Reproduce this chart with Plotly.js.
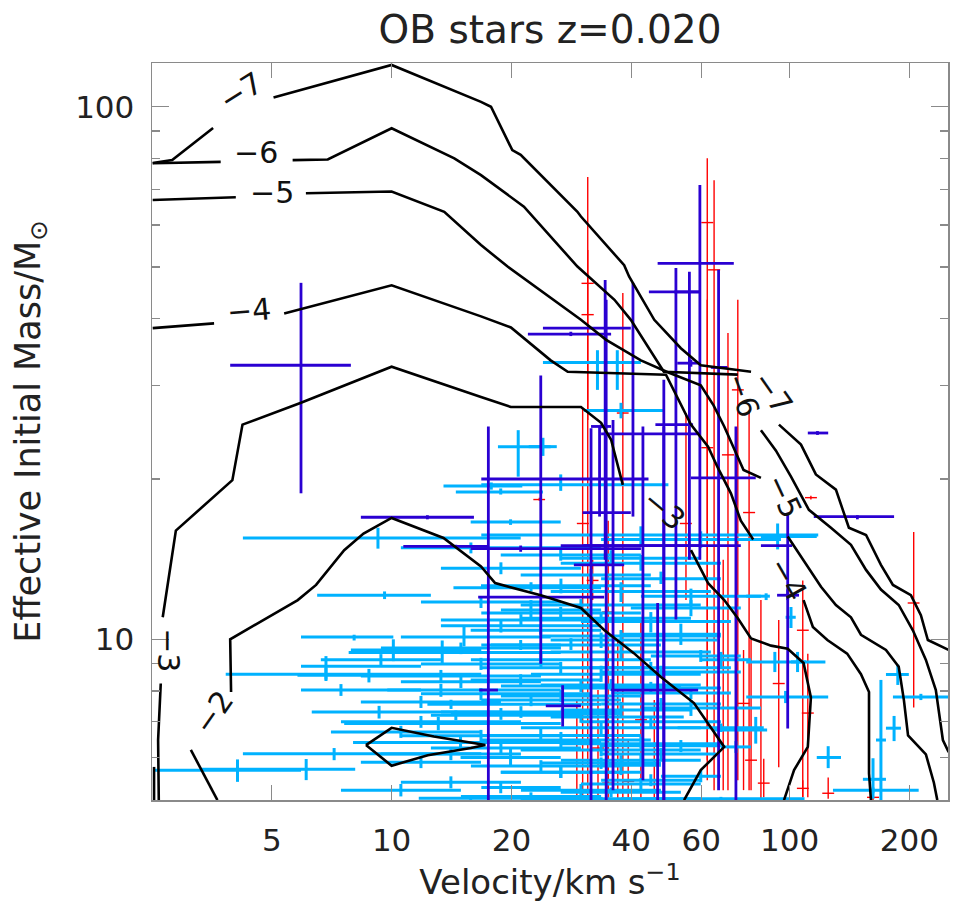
<!DOCTYPE html>
<html><head><meta charset="utf-8">
<script src="https://cdn.plot.ly/plotly-3.0.1.min.js"></script>
<style>html,body{margin:0;padding:0;background:#fff;} #chart{width:959px;height:913px;}</style>
</head><body><div id="chart"></div>
<script>
// ---- axis ticks ----
const xTickVals = [5, 10, 20, 40, 60, 100, 200];
const xTickText = ['5', '10', '20', '40', '60', '100', '200'];
const yTickVals = [10, 100];
const yTickText = ['10', '100'];
const yMinorVals = [6, 7, 8, 9, 20, 30, 40, 50, 60, 70, 80, 90];

// ---- contour lines (velocity km/s, mass Msun); null = gap for label ----
const c7v = [2.51,2.81,3.56,null,5.05,10,16.77,17.77,20.1,21.1,29.3,29.9,38.4,39.5,45.7,53.3,59.8,80,null,94.0,106.8,116.4,130.7,140.9,155.6,169.6,181.8,201.7,213.7,222.5,251];
const c7m = [78.4,79.4,91.2,null,104.1,119.8,102.1,100,82.9,81.2,63.5,62.2,50.4,48.0,39.8,35.2,32.7,31.8,null,25.3,23.2,20.4,19.1,16.2,15.7,13.8,12.65,12.1,11.1,9.97,9.55];
const c6v = [2.51,3.72,null,5.64,6.91,10,14.37,16.77,21.5,29.3,36.3,39.9,48.3,74.1,null,84.7,92.4,100.8,111.8,127.0,142.6,155.6,169.6,188,204,220,233,242.7,251];
const c6m = [78.3,78.8,null,79.4,79.6,91.1,80.0,74.4,64.9,50.1,43.4,39.8,31.8,31.4,null,24.7,22.6,20.2,17.5,16.2,15.05,13.5,12.4,11.6,10.4,9.15,8.03,6.47,6.14];
const c5v = [2.51,4.06,null,6.09,10,13.56,16.77,19.56,29.9,34.6,42.3,49.6,59.8,64.4,68.5,76.6,84.7,null,98.9,108.4,119.9,130.7,142.6,151.1,174.6,188,193.7,198.4,220,230.4,235];
const c5m = [66.8,67.6,null,68.8,69.3,63.5,55.0,50.1,39.8,36.5,33.4,31.7,30.0,27.5,25.1,20.8,20.1,null,15.6,14.1,12.55,11.6,11.0,10.2,9.55,8.88,7.69,6.6,6.08,5.38,4.99];
const c4v = [2.51,3.58,null,5.37,10,16.77,19.94,25.1,27.7,48.9,52.7,56.5,62.4,66.0,71.2,75.4,81.0,null,108.4,114.4,124.4,139.5,151.1,158.3,158.3,160.1];
const c4m = [38.4,39.2,null,40.9,46.2,40.4,38.5,33.4,31.8,31.4,28.1,25.3,23.0,21.0,18.8,16.7,15.4,null,11.85,10.55,9.97,9.4,8.6,7.96,5.6,4.99];
const c3v = [2.60,2.59,2.63,null,2.66,2.87,3.98,4.22,5.92,10,16.77,19.94,29.9,33.6,35.6,38.1,null,56.5,62.4,68.5,74.1,80,89.8,98.9,108.4,113.1,111.1,102.6,96.8];
const c3m = [4.99,6.47,8.26,null,11.0,16.0,19.9,25.3,27.8,32.5,28.5,27.3,27.3,25.5,23.7,19.5,null,14.7,12.75,11.85,10.95,10.04,9.73,9.6,9.03,7.78,6.28,5.68,4.99];
const c2v = [3.65,3.13,null,3.95,3.93,5.81,6.46,7.6,8.5,10,13.5,16.77,18.2,23.7,27.1,29.9,34.2,40.6,47.5,57.5,68.5,59.8,54.3];
const c2m = [4.99,6.2,null,7.96,10.0,11.85,12.65,14.7,15.8,16.9,15.5,13.7,12.75,12.1,11.7,11.45,10.41,9.42,8.5,7.59,6.28,5.68,4.99];
const c1v = [8.62,10,12.77,15.82,17.2,15.82,12.33,10,8.62];
const c1m = [6.33,6.82,6.57,6.39,6.33,6.25,6.06,5.79,6.33];
const cEdgeV = [2.53,2.53];
const cEdgeM = [5.76,4.99];

// ---- contour labels ----
const labText  = ['\u22127','\u22126','\u22125','\u22124','\u22123','\u22122','\u22123','\u22126','\u22127','\u22125','\u22124'];
const labV     = [4.18,4.56,5.0,4.38,2.74,3.56,48.3,76.2,90.8,96.6,98.9];
const labM     = [106.6,81.9,69.1,41.5,9.55,7.3,17.5,28.8,29.1,18.6,13.0];
const labAngle = [-32,0,0,-5,90,-55,40,70,55,65,60];

// ---- cyan stars ----
const cyanV = [9.24,9.6,8.05,15.2,10.1,13.4,6.84,6.84,8.77,13.3,14.1,9.3,14.5,13.1,14.9,7.17,4.1,6.1,15.8,33.6,67.2,17.8,18.8,19.9,24.0,20.8,32.9,36.9,37.7,
 26.6,42.3,31.7,22.4,37.7,56.5,29.9,26.6,44.8,23.7,33.6,21.1,37.7,67.2,91.8,26.6,47.5,21.1,35.6,56.5,97.7,22.4,37.7,29.9,67.2,82.2,23.7,42.3,33.6,73.3,19.9,33.6,26.6,44.8,18.8,35.6,93.3,87.3,100.8,104.7,125,162,162,169.6,187,183,213.7,
 26.6,42.3,59.8,
 15.82,35.6,18.82,47.5,26.63,16.77,56.5,33.6,18.82,53.3,28.22,59.8,16.77,33.6,14.93,44.8,26.63,11.85,56.5,18.82,44.8,10.55,26.63,53.3,14.09,42.3,23.72,59.8,14.09,29.9,7.46,9.40,22.39,37.7,
 21.13,37.7,14.93,23.72,44.8,13.30,29.9,16.77,47.5,21.13,11.85,33.6,18.82,47.5,11.85,26.63,42.3,10.55,22.39,16.77];
const cyanVLo = [4.23,6.5,5.92,10.55,7.9,7.8,5.92,3.83,5.8,9.75,12.3,6.3,12.55,7.6,8.0,4.23,2.52,3.32,11.7,21.1,37.7,13.5,14.5,15.8,22.1,18.5,24.0,26.6,30.4,
 18.8,26.6,21.1,14.3,25.1,42.3,21.1,16.8,29.9,15.8,25.1,16.8,25.1,59.8,77.8,16.8,33.6,15.8,23.7,35.6,77.8,16.8,26.6,25.1,52.3,64.7,16.8,26.6,21.1,67.2,14.9,23.7,18.8,33.6,16.8,26.6,84.7,77.8,97.7,100.8,117,128.5,152.8,164.8,174.6,174.6,181.8,
 16.8,16.8,33.6,
 10.55,26.63,13.30,33.6,16.77,11.85,39.9,21.13,13.30,37.7,17.77,44.8,11.85,22.39,10.55,26.63,18.82,8.37,42.3,14.09,29.9,7.04,16.77,33.6,9.40,26.63,15.82,47.5,10.55,21.13,5.92,6.64,18.82,33.6,
 13.30,23.72,9.40,15.82,29.9,8.37,18.82,11.85,33.6,13.30,7.46,21.13,12.55,33.6,8.37,18.82,29.9,7.46,14.93,10.55];
const cyanVHi = [21.1,12.55,10.1,25.1,16.8,26.6,11.85,16.8,9.96,26.6,33.6,18.8,29.9,26.6,33.6,16.8,5.92,8.1,25.1,59.8,109,21.3,24.0,26.6,26.0,25.1,37.7,42.3,48.3,
 42.3,67.2,44.8,33.6,63.4,84.7,59.8,42.3,71.2,33.6,65.7,26.6,63.4,80,123,44.8,75.4,33.6,59.8,71.2,125,37.7,56.5,54.2,86.1,87.8,42.3,67.2,59.8,80,26.6,47.5,37.7,59.8,26.6,53.3,117,89.2,103.6,110,134.6,211,174.6,174.6,199.3,190.4,251,
 49.6,118,95.1,
 33.6,59.8,29.9,67.2,44.8,26.63,75.4,56.5,33.6,67.2,47.5,75.4,26.63,59.8,23.72,67.2,42.3,18.82,84.7,37.7,67.2,16.77,44.8,67.2,21.13,59.8,37.7,67.2,21.13,47.5,11.85,13.30,33.6,47.5,
 42.3,67.2,26.63,44.8,71.2,23.72,53.3,31.7,67.2,37.7,21.13,59.8,29.9,65.3,16.77,42.3,59.8,14.93,33.6,26.63];
const cyanM = [15.5,12.1,10.1,10.1,9.55,9.45,8.9,8.6,8.56,8.03,7.55,7.3,7.2,6.95,6.4,6.1,5.68,5.7,5.03,5.02,5.02,19.4,18.9,16.6,23.0,23.0,33.1,33.1,26.9,
 14.4,13.9,13.2,12.5,12.3,12.05,11.6,11.2,10.8,10.4,9.97,9.76,9.47,9.15,9.07,8.84,8.68,8.39,8.21,7.93,7.79,7.69,7.37,7.15,6.82,6.76,6.6,6.37,6.2,6.28,6.0,5.86,5.63,5.44,5.27,5.16,15.6,12.05,11.0,9.07,6.0,5.21,5.46,6.47,8.59,6.81,7.79,
 19.5,15.7,15.4,
 14.85,14.2,13.6,13.0,12.6,11.75,11.45,10.95,10.6,10.22,9.76,9.3,8.99,8.6,8.32,8.1,7.83,7.63,7.43,7.24,7.0,6.7,6.47,6.31,6.09,5.93,5.78,5.53,5.39,5.21,8.03,9.15,11.35,5.8,
 10.87,10.14,9.63,9.15,8.84,8.53,8.17,7.9,7.56,7.3,7.0,6.82,6.25,6.09,5.88,5.63,5.35,5.21,5.07,6.59];
const cyanMLo = [14.8,11.9,9.95,9.7,9.1,9.0,8.4,8.35,8.3,7.8,7.4,7.1,7.05,6.75,6.2,5.93,5.4,5.44,4.99,4.99,4.99,19.1,18.7,16.4,22.1,20.2,29.4,29.4,26.0,
 14.05,13.45,12.85,12.3,11.75,11.6,11.3,10.9,10.3,10.2,9.63,9.55,9.15,8.85,8.68,8.6,8.46,8.17,8.0,7.72,7.59,7.49,7.12,6.97,6.70,6.37,6.44,6.23,6.03,6.12,5.8,5.71,5.49,5.3,5.14,5.05,14.75,11.85,10.5,8.68,5.73,5.14,5.02,4.99,8.21,6.44,7.69,
 19.0,15.0,14.85,
 14.5,13.75,13.25,12.7,12.2,11.45,11.05,10.7,10.3,9.76,9.55,9.07,8.76,8.32,8.1,7.9,7.63,7.43,7.18,7.06,6.82,6.53,6.25,6.14,5.93,5.78,5.63,5.39,5.25,5.07,7.83,8.92,10.87,5.56,
 10.6,9.86,9.38,8.84,8.6,8.32,7.96,7.69,7.37,7.12,6.82,6.64,6.09,5.93,5.73,5.49,5.21,5.07,4.99,6.41];
const cyanMHi = [16.2,12.3,10.2,10.6,10.0,9.95,9.3,8.85,8.8,8.25,7.7,7.5,7.35,7.15,6.6,6.25,5.95,5.96,5.1,5.06,5.06,19.7,19.2,16.8,23.9,24.7,34.9,34.9,27.8,
 14.75,14.4,13.55,12.8,12.8,12.45,11.9,11.5,11.25,10.65,10.3,9.97,9.8,9.47,9.47,9.07,8.92,8.6,8.42,8.14,8.0,7.9,7.63,7.34,6.95,7.15,6.79,6.56,6.37,6.44,6.23,6.0,5.78,5.58,5.41,5.27,16.5,12.2,11.5,9.47,6.3,5.27,5.98,8.39,8.96,7.18,7.9,
 20.4,16.3,15.95,
 15.2,14.7,13.95,13.4,13.0,12.05,11.85,11.25,10.87,10.7,10.05,9.55,9.23,8.92,8.53,8.32,8.03,7.83,7.69,7.43,7.18,6.88,6.7,6.47,6.25,6.09,5.93,5.68,5.53,5.35,8.24,9.38,11.85,6.06,
 11.15,10.41,9.86,9.47,9.07,8.76,8.39,8.1,7.76,7.49,7.18,7.0,6.41,6.25,6.03,5.78,5.49,5.35,5.16,6.76];

// ---- dark blue stars ----
const dbV   = [5.92,12.3,14.5,17.5,23.7,26.9,34.6,36.0,40.4,42.8,46.6,48.3,51.8,56.0,59.5,66.3,73.3,98.9,98.9,117.5,148,34.4,28.2,48.3,56.5,33.3,21.1,31.7,33.6];
const dbVLo = [3.93,8.37,10.7,16.6,16.5,24.4,16.8,28.7,33.6,26.6,35.6,33.6,44.3,51.3,46.6,63.4,56.5,84.7,93.0,111.1,115.0,24.0,22.0,46.0,52.2,30.2,15.8,30.3,31.7];
const dbVHi = [7.90,16.1,17.4,18.5,34.2,29.9,44.2,38.4,59.8,75.4,58.9,59.8,59.8,59.8,72.4,69.8,82.2,101.5,105.6,125.0,183,39.9,35.6,57.2,59.8,39.9,42.3,33.6,35.6];
const dbM   = [32.7,16.95,14.95,8.03,12.0,7.5,20.0,13.8,24.3,15.0,8.03,15.0,44.9,44.9,50.8,32.4,20.1,15.0,12.1,24.4,17.0,38.4,37.4,25.3,33.0,17.3,14.8,15.0,25.1];
const dbMLo = [18.8,16.8,14.85,4.99,9.0,6.86,4.99,5.21,17.0,5.44,4.99,4.99,10.9,14.1,14.1,5.21,4.99,6.8,11.85,24.2,16.8,14.1,37.1,4.99,32.5,17.0,14.6,4.99,24.9];
const dbMHi = [46.7,17.1,15.05,25.1,31.3,8.2,43.4,25.8,46.7,25.1,11.7,25.1,49.8,49.0,71.3,49.4,25.1,17.3,12.4,24.6,17.1,47.3,37.8,30.7,33.5,25.1,15.0,24.9,25.3];

// ---- red stars ----
const redV   = [31.1,31.1,62.1,64.6,38.1,62.1,70.0,74.1,79.1,54.9,30.2,23.5,113.1,205,32.0,35.0,68.1,76.6,80.0,86.1,93.9,107.9,111.1,107.9,125,162,35.0,39.3,45.7,29.2,33.0,37.0,42.3,84.7];
const redVLo = [30.0,30.0,60.0,62.4,36.8,60.0,67.6,71.6,76.4,53.0,29.2,22.7,109.3,198,30.9,33.8,65.8,74.0,77.3,83.2,90.7,104.3,107.3,104.3,120.8,156.5,33.8,38.0,44.2,28.2,31.9,35.7,40.9,81.8];
const redVHi = [32.2,32.2,64.3,66.9,39.4,64.3,72.5,76.7,81.9,56.8,31.3,24.3,117.1,212,33.1,36.2,70.5,79.3,82.8,89.1,97.2,111.7,115.0,111.7,129.4,167.7,36.2,40.7,47.3,30.2,34.2,38.3,43.8,87.7];
const redM   = [46.6,40.7,60.6,49.4,26.6,22.9,22.2,29.4,17.3,16.5,16.5,18.3,18.45,11.7,12.9,11.25,8.67,7.58,5.93,5.37,8.26,10.4,7.27,5.25,5.14,5.05,5.37,5.41,5.44,5.93,6.25,6.47,7.06,6.76];
const redMLo = [25.8,4.99,5.44,5.21,4.99,5.93,5.21,5.44,5.21,11.85,4.99,18.2,18.3,7.45,11.85,5.21,5.21,5.21,5.21,5.05,5.75,5.05,5.05,5.05,5.02,4.99,4.99,4.99,4.99,4.99,4.99,4.99,4.99,4.99];
const redMHi = [73.8,53.8,80.0,72.8,44.7,43.4,37.6,43.4,26.9,26.6,27.2,18.45,18.6,15.9,14.1,16.7,14.1,9.55,9.97,5.97,10.87,12.9,9.4,5.44,5.5,5.1,7.69,6.47,7.69,7.69,8.03,9.97,10.87,11.85];

// ---- build traces ----
function errTrace(v, vLo, vHi, m, mLo, mHi, color, thick) {
  return {
    type: 'scatter', mode: 'markers', x: v, y: m, showlegend: false, hoverinfo: 'skip',
    marker: {size: 1, color: color},
    error_x: {type: 'data', symmetric: false, array: v.map((a, i) => vHi[i] - a), arrayminus: v.map((a, i) => a - vLo[i]), color: color, thickness: thick, width: 0},
    error_y: {type: 'data', symmetric: false, array: m.map((a, i) => mHi[i] - a), arrayminus: m.map((a, i) => a - mLo[i]), color: color, thickness: thick, width: 0}
  };
}
function lineTrace(v, m) {
  return {type: 'scatter', mode: 'lines', x: v, y: m, connectgaps: false, showlegend: false, hoverinfo: 'skip',
          line: {color: '#000', width: 2.6}};
}
const CYAN = '#00b2ff', DBLUE = '#2a00d2', RED = '#ff0000';
const traces = [
  errTrace(redV, redVLo, redVHi, redM, redMLo, redMHi, RED, 1.4),
  errTrace(cyanV, cyanVLo, cyanVHi, cyanM, cyanMLo, cyanMHi, CYAN, 3),
  errTrace(dbV, dbVLo, dbVHi, dbM, dbMLo, dbMHi, DBLUE, 2.8),
  lineTrace(c7v, c7m), lineTrace(c6v, c6m), lineTrace(c5v, c5m), lineTrace(c4v, c4m),
  lineTrace(c3v, c3m), lineTrace(c2v, c2m), lineTrace(c1v, c1m), lineTrace(cEdgeV, cEdgeM)
];

const FONT = 'DejaVu Sans, Arial, sans-serif';
const annotations = labText.map((t, i) => ({
  x: Math.log10(labV[i]), y: Math.log10(labM[i]), xref: 'x', yref: 'y', text: t, showarrow: false,
  textangle: labAngle[i], font: {family: FONT, size: 30, color: '#111'}
}));

const axisCommon = {
  type: 'log', showgrid: false, zeroline: false, showline: true, linecolor: '#8a8a8a', linewidth: 1.5,
  mirror: 'allticks', ticks: 'inside', tickcolor: '#8a8a8a', tickwidth: 1.3,
  tickfont: {family: FONT, size: 31, color: '#222'}
};
const layout = {
  width: 959, height: 913,
  margin: {l: 152, r: 11, t: 63, b: 113},
  paper_bgcolor: '#fff', plot_bgcolor: '#fff',
  font: {family: FONT, color: '#222'},
  title: {text: 'OB stars z=0.020', font: {family: FONT, size: 39, color: '#222'},
          x: 0.5, xref: 'paper', y: 1 - 29 / 913, yref: 'container', yanchor: 'middle'},
  xaxis: Object.assign({}, axisCommon, {
    range: [Math.log10(2.5), Math.log10(250)], tickmode: 'array', tickvals: xTickVals, ticktext: xTickText,
    ticklen: 15, ticklabelstandoff: 12,
    title: {text: 'Velocity/km s<sup>\u22121</sup>', font: {family: FONT, size: 34, color: '#222'}, standoff: 12}
  }),
  yaxis: Object.assign({}, axisCommon, {
    range: [0.6983, 2.0821], tickmode: 'array', tickvals: yTickVals, ticktext: yTickText,
    ticklen: 17, ticklabelstandoff: 10,
    minor: {tickmode: 'array', tickvals: yMinorVals, ticks: 'inside', ticklen: 8, tickcolor: '#8a8a8a', tickwidth: 1.3},
    title: {text: 'Effective Initial Mass/M<sub>\u2299</sub>', font: {family: FONT, size: 35, color: '#222'}, standoff: 24}
  }),
  annotations: annotations,
  hovermode: false
};
Plotly.newPlot('chart', traces, layout, {staticPlot: true, displayModeBar: false});
</script>
</body></html>
